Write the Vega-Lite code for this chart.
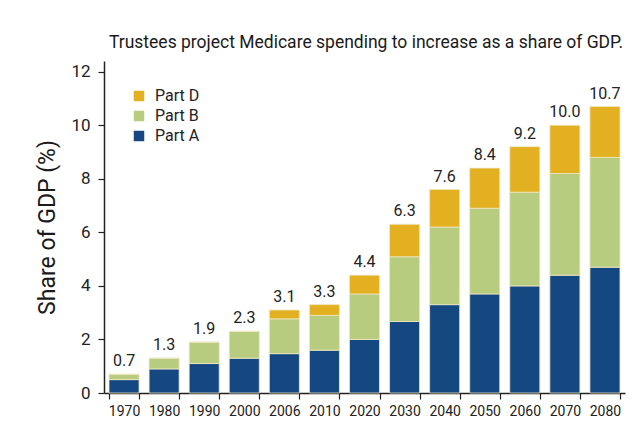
{
  "$schema": "https://vega.github.io/schema/vega-lite/v6.json",
  "width": 521,
  "height": 332,
  "autosize": {"type": "none"},
  "padding": {"left": 104, "top": 61, "right": 19, "bottom": 43},
  "background": "white",
  "title": {
    "text": "Trustees project Medicare spending to increase as a share of GDP.",
    "anchor": "end",
    "fontSize": 17.5,
    "fontWeight": "normal",
    "font": "Liberation Sans Narrow, Roboto, sans-serif",
    "color": "#1a1a1a",
    "offset": 10,
    "dx": -2
  },
  "datasets": {
    "parts": [
      {"year": "1970", "part": "Part A", "share": 0.5},
      {"year": "1970", "part": "Part B", "share": 0.2},
      {"year": "1970", "part": "Part D", "share": 0.0},
      {"year": "1980", "part": "Part A", "share": 0.9},
      {"year": "1980", "part": "Part B", "share": 0.4},
      {"year": "1980", "part": "Part D", "share": 0.0},
      {"year": "1990", "part": "Part A", "share": 1.1},
      {"year": "1990", "part": "Part B", "share": 0.8},
      {"year": "1990", "part": "Part D", "share": 0.0},
      {"year": "2000", "part": "Part A", "share": 1.3},
      {"year": "2000", "part": "Part B", "share": 1.0},
      {"year": "2000", "part": "Part D", "share": 0.0},
      {"year": "2006", "part": "Part A", "share": 1.47},
      {"year": "2006", "part": "Part B", "share": 1.3},
      {"year": "2006", "part": "Part D", "share": 0.33},
      {"year": "2010", "part": "Part A", "share": 1.6},
      {"year": "2010", "part": "Part B", "share": 1.3},
      {"year": "2010", "part": "Part D", "share": 0.4},
      {"year": "2020", "part": "Part A", "share": 2.0},
      {"year": "2020", "part": "Part B", "share": 1.7},
      {"year": "2020", "part": "Part D", "share": 0.7},
      {"year": "2030", "part": "Part A", "share": 2.67},
      {"year": "2030", "part": "Part B", "share": 2.42},
      {"year": "2030", "part": "Part D", "share": 1.21},
      {"year": "2040", "part": "Part A", "share": 3.3},
      {"year": "2040", "part": "Part B", "share": 2.9},
      {"year": "2040", "part": "Part D", "share": 1.4},
      {"year": "2050", "part": "Part A", "share": 3.7},
      {"year": "2050", "part": "Part B", "share": 3.2},
      {"year": "2050", "part": "Part D", "share": 1.5},
      {"year": "2060", "part": "Part A", "share": 4.0},
      {"year": "2060", "part": "Part B", "share": 3.5},
      {"year": "2060", "part": "Part D", "share": 1.7},
      {"year": "2070", "part": "Part A", "share": 4.4},
      {"year": "2070", "part": "Part B", "share": 3.8},
      {"year": "2070", "part": "Part D", "share": 1.8},
      {"year": "2080", "part": "Part A", "share": 4.7},
      {"year": "2080", "part": "Part B", "share": 4.1},
      {"year": "2080", "part": "Part D", "share": 1.9}
    ],
    "totals": [
      {"year": "1970", "total": 0.7, "label": "0.7"},
      {"year": "1980", "total": 1.3, "label": "1.3"},
      {"year": "1990", "total": 1.9, "label": "1.9"},
      {"year": "2000", "total": 2.3, "label": "2.3"},
      {"year": "2006", "total": 3.1, "label": "3.1"},
      {"year": "2010", "total": 3.3, "label": "3.3"},
      {"year": "2020", "total": 4.4, "label": "4.4"},
      {"year": "2030", "total": 6.3, "label": "6.3"},
      {"year": "2040", "total": 7.6, "label": "7.6"},
      {"year": "2050", "total": 8.4, "label": "8.4"},
      {"year": "2060", "total": 9.2, "label": "9.2"},
      {"year": "2070", "total": 10.0, "label": "10.0"},
      {"year": "2080", "total": 10.7, "label": "10.7"}
    ]
  },
  "config": {
    "font": "Liberation Sans Narrow, Roboto, sans-serif",
    "view": {"stroke": null}
  },
  "layer": [
    {
      "data": {"name": "parts"},
      "mark": {"type": "bar", "stroke": "#efe9c4", "strokeWidth": 0.8},
      "encoding": {
        "x": {
          "field": "year",
          "type": "ordinal",
          "scale": {"paddingInner": 0.25, "paddingOuter": 0.125},
          "axis": {
            "title": null,
            "labelAngle": 0,
            "labelFontSize": 14,
            "labelColor": "#222",
            "labelPadding": 5,
            "tickBand": "extent",
            "tickSize": 6,
            "tickColor": "#222",
            "domainColor": "#222",
            "domainWidth": 1.5,
            "tickWidth": 1.2
          }
        },
        "y": {
          "field": "share",
          "type": "quantitative",
          "stack": "zero",
          "scale": {"domain": [0, 12.4], "nice": false},
          "axis": {
            "title": "Share of GDP (%)",
            "titleFontSize": 23,
            "titleFontWeight": "normal",
            "titleColor": "#1a1a1a",
            "titlePadding": 11,
            "values": [0, 2, 4, 6, 8, 10, 12],
            "grid": false,
            "labelFontSize": 17,
            "labelColor": "#222",
            "labelPadding": 8,
            "tickSize": 6,
            "tickColor": "#222",
            "domainColor": "#222",
            "domainWidth": 1.5,
            "tickWidth": 1.2
          }
        },
        "color": {
          "field": "part",
          "type": "nominal",
          "scale": {
            "domain": ["Part D", "Part B", "Part A"],
            "range": ["#e2b021", "#b8cc80", "#154880"]
          },
          "legend": {
            "title": null,
            "orient": "top-left",
            "offset": 27,
            "symbolType": "square",
            "symbolSize": 110,
            "symbolStrokeWidth": 0,
            "labelFontSize": 16,
            "labelColor": "#222",
            "rowPadding": 4,
            "labelOffset": 8
          }
        },
        "order": {"field": "part", "sort": "ascending"}
      }
    },
    {
      "data": {"name": "totals"},
      "mark": {"type": "text", "baseline": "bottom", "dy": -5, "fontSize": 16, "color": "#222"},
      "encoding": {
        "x": {"field": "year", "type": "ordinal"},
        "y": {"field": "total", "type": "quantitative"},
        "text": {"field": "label"}
      }
    }
  ]
}
